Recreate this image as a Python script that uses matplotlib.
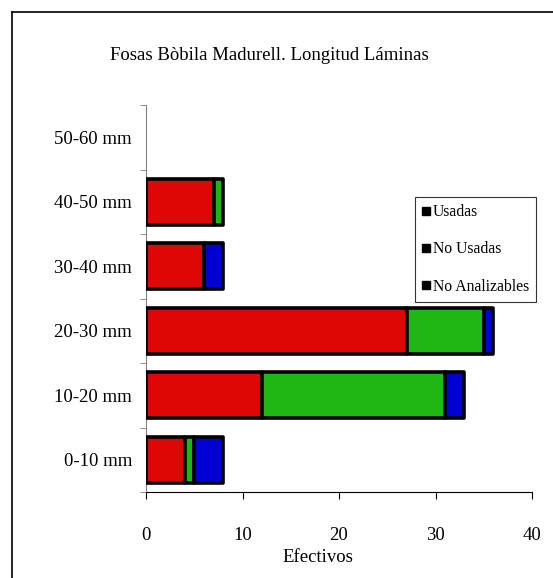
import matplotlib
matplotlib.use("Agg")
import matplotlib.pyplot as plt
from matplotlib.lines import Line2D
import numpy as np

categories = ["0-10 mm", "10-20 mm", "20-30 mm", "30-40 mm", "40-50 mm", "50-60 mm"]
usadas = [4, 12, 27, 6, 7, 0]
no_usadas = [1, 19, 8, 0, 1, 0]
no_analizables = [3, 2, 1, 2, 0, 0]
series_names = ["Usadas", "No Usadas", "No Analizables"]
colors = ["#DD0806", "#1FB714", "#0000D4"]
xticks = [0, 10, 20, 30, 40]

plt.rcParams['font.family'] = ['Liberation Serif', 'DejaVu Serif']

fig = plt.figure(figsize=(5.53, 5.78), dpi=100)
ax = fig.add_axes([146/553, 1-492/578, (532-146)/553, (492-105)/578])

y = np.arange(len(categories))
left = np.zeros(len(categories))
for vals, c in zip([usadas, no_usadas, no_analizables], colors):
    vals = np.array(vals, dtype=float)
    mask = vals > 0
    ax.barh(y[mask], vals[mask], left=left[mask], height=0.72, color=c,
            edgecolor="black", linewidth=2.6, joinstyle="round", zorder=3)
    left += vals

ax.set_xlim(0, 40)
ax.set_ylim(-0.5, len(categories) - 0.5)
ax.set_xticks(xticks)
ax.set_xticklabels([str(t) for t in xticks], fontsize=13.5)
ax.set_yticks(y)
ax.set_yticklabels(categories, fontsize=13.5)
ax.set_yticks(np.arange(len(categories) + 1) - 0.5, minor=True)
ax.tick_params(axis='y', which='major', length=0, pad=10)
ax.tick_params(axis='y', which='minor', length=4, color='#808080', direction='out')
ax.tick_params(axis='x', length=5, color='black', direction='out', pad=20)

for s in ['top', 'right']:
    ax.spines[s].set_visible(False)
ax.spines['left'].set_color('#808080')
ax.spines['bottom'].set_color('black')

fig.text(269/553, 1-55/578, "Fosas Bòbila Madurell. Longitud Láminas", ha='center', va='center', fontsize=13.5)
fig.text(318/553, 1-558/578, "Efectivos", ha='center', va='center', fontsize=13.5)

handles = [Line2D([], [], marker='s', color='black', linestyle='none', markersize=6) for _ in series_names]
leg = ax.legend(handles, series_names, loc='upper left', bbox_to_anchor=(0.697, 0.762),
                frameon=True, fancybox=False, edgecolor='black', fontsize=11.3,
                handlelength=0.5, handletextpad=0.2, borderpad=0.45, labelspacing=1.35,
                borderaxespad=0)
leg.get_frame().set_linewidth(0.8)

fx = 12/553
fy = 1 - 12/578
fig.add_artist(Line2D([fx, fx], [0, fy], color='black', linewidth=1.2, transform=fig.transFigure))
fig.add_artist(Line2D([fx, 1], [fy, fy], color='black', linewidth=1.2, transform=fig.transFigure))

fig.savefig("out.png", dpi=100)
